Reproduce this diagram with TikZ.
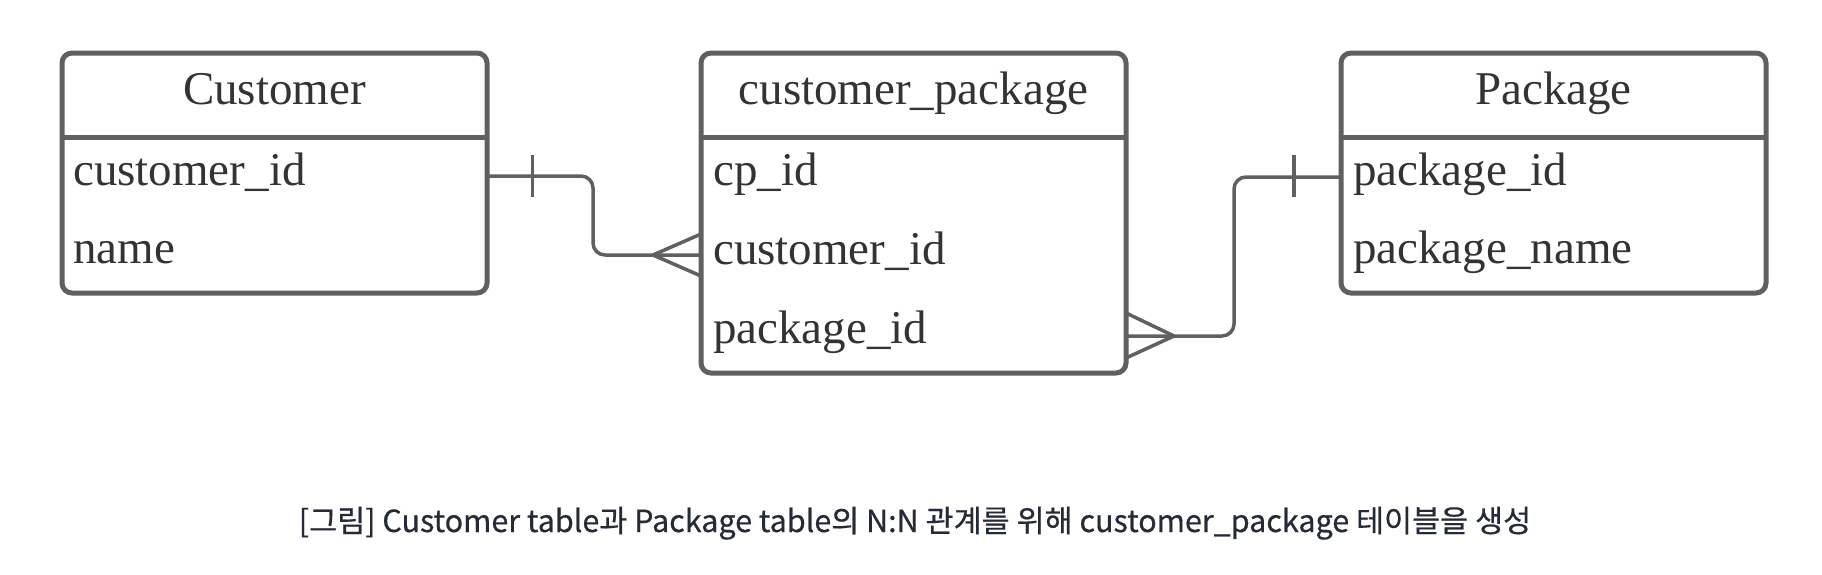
\documentclass[tikz,border=0pt]{standalone}
\usepackage{fontspec}
\setmainfont{Liberation Serif}
\newfontfamily\krfont[FakeBold=0.5]{Noto Sans CJK KR}
\definecolor{edge}{HTML}{606060}
\definecolor{ink}{HTML}{333333}
\definecolor{capink}{HTML}{252A38}
\begin{document}
\begin{tikzpicture}[x=1pt,y=-1pt,
  entity/.style={draw=edge,line width=5pt,rounded corners=10pt,minimum width=425pt,inner sep=0pt,outer sep=0pt,anchor=north west},
  title/.style={anchor=base,font=\fontsize{47}{56}\selectfont,text=ink,inner sep=0pt},
  field/.style={anchor=base west,font=\fontsize{47}{56}\selectfont,text=ink,inner sep=0pt},
  sep/.style={draw=edge,line width=5pt},
  conn/.style={draw=edge,line width=3.5pt},
]
\useasboundingbox (0,0) rectangle (1822,574);
% rows
\coordinate (r1) at (0,176);
\coordinate (r2) at (0,255);
\coordinate (r3) at (0,336);
% entity boxes
\node[entity,minimum height=240pt] (cust) at (62,53) {};
\node[entity,minimum height=320pt] (cp) at (701,53) {};
\node[entity,minimum height=240pt] (pkg) at (1341,53) {};
% header separators
\draw[sep] (cust.west |- 0,137) -- (cust.east |- 0,137);
\draw[sep] (cp.west |- 0,137) -- (cp.east |- 0,137);
\draw[sep] (pkg.west |- 0,137) -- (pkg.east |- 0,137);
% titles
\node[title] (custT) at (cust.center |- 0,104) {Customer};
\node[title] (cpT) at (cp.center |- 0,104) {customer\_package};
\node[title] (pkgT) at (pkg.center |- 0,104) {Package};
% fields
\node[field] (custF1) at (73,185) {customer\_id};
\node[field] (custF2) at (73,263) {name};
\node[field] (cpF1) at (713,185) {cp\_id};
\node[field] (cpF2) at (713,264) {customer\_id};
\node[field] (cpF3) at (713,343) {package\_id};
\node[field] (pkgF1) at (1353,185) {package\_id};
\node[field] (pkgF2) at (1353,263) {package\_name};
% connector Customer -> customer_package
\coordinate (k1) at (593,176);
\coordinate (k2) at (593,255);
\coordinate (f1) at (653,255);
\draw[conn,rounded corners=12pt] (cust.east |- r1) -- (k1) -- (k2) -- (cp.west |- r2);
\draw[conn] (532.7,155) -- (532.7,197);
\draw[conn] (f1) -- (cp.west |- 0,234);
\draw[conn] (f1) -- (cp.west |- 0,276);
% connector customer_package -> Package
\coordinate (m1) at (1234,336);
\coordinate (m2) at (1234,177);
\coordinate (f2) at (1174,336);
\draw[conn,rounded corners=12pt] (cp.east |- r3) -- (m1) -- (m2) -- (pkg.west |- 0,177);
\draw[conn] (1294,155) -- (1294,197);
\draw[conn] (f2) -- (cp.east |- 0,313);
\draw[conn] (f2) -- (cp.east |- 0,358);
% caption
\node[anchor=base,inner sep=0pt,text=capink,font=\krfont\fontsize{30.5}{36}\selectfont] (cap) at (915,532)
  {[그림] Customer table과 Package table의 N:N 관계를 위해 customer\_package 테이블을 생성};
\end{tikzpicture}
\end{document}
